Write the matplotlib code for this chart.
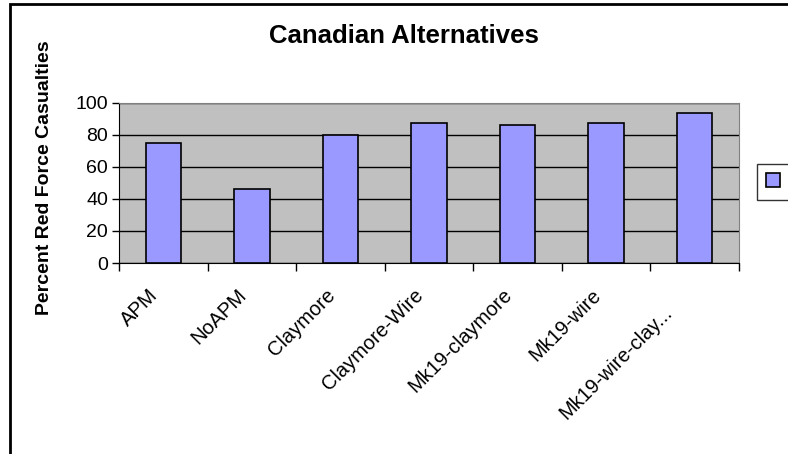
import numpy as np
import matplotlib.pyplot as plt
from matplotlib.patches import Rectangle

plt.rcParams['font.family'] = ['Liberation Sans', 'DejaVu Sans']

categories = ['APM', 'NoAPM', 'Claymore', 'Claymore-Wire', 'Mk19-claymore',
              'Mk19-wire', 'Mk19-wire-clay...']
casualties = [75, 46, 80, 87.5, 86.5, 87.5, 93.5]

fig = plt.figure(figsize=(7.88, 4.54), dpi=100)
ax = fig.add_axes([119/788, 1-263/454, 620/788, 160/454])

x = np.arange(len(categories))
ax.bar(x, casualties, width=0.4, color='#9999FF', edgecolor='black',
       linewidth=1.2, label=' ', zorder=3)

ax.set_facecolor('#C0C0C0')
ax.set_xlim(-0.5, len(categories) - 0.5)
ax.set_ylim(0, 100)
ax.set_yticks([0, 20, 40, 60, 80, 100])
ax.yaxis.grid(True, color='black', linewidth=1, zorder=1)
ax.set_axisbelow(True)

# category boundary ticks
ax.set_xticks(np.arange(len(categories) + 1) - 0.5)
ax.set_xticklabels([])
ax.tick_params(axis='x', direction='out', length=6, width=1)
ax.tick_params(axis='y', direction='out', length=5, width=1, labelsize=14, pad=3)
for i, c in enumerate(categories):
    # truncated last label sits a bit further down the diagonal
    dx, dy = (-0.17, -14) if not c.endswith('...') else (-0.36, -25)
    ax.text(i + dx, dy, c, rotation=45, ha='right', va='top',
            rotation_mode='anchor', fontsize=14.5)

for s in ['top', 'right']:
    ax.spines[s].set_color('#808080')
for s in ['left', 'bottom']:
    ax.spines[s].set_color('black')

fig.text(404/788, 1-36/454, 'Canadian Alternatives', ha='center', va='center',
         fontsize=18.5, fontweight='bold')
fig.text(45/788, 1-178/454, 'Percent Red Force Casualties', rotation=90,
         ha='center', va='center', fontsize=14, fontweight='bold')

leg = fig.legend(loc='center left', bbox_to_anchor=(757/788, 1-182/454),
                 frameon=True, fancybox=False, edgecolor='black',
                 borderaxespad=0, handlelength=0.8, handleheight=0.8,
                 borderpad=0.5, handletextpad=0.8, fontsize=13)
leg.get_frame().set_linewidth(1)

# outer chart border (only left/top visible in the original)
fig.patches.append(Rectangle((10/788, -0.1), 1.2, 1 - 4/454 + 0.1,
                             transform=fig.transFigure, fill=False,
                             edgecolor='black', linewidth=2))

fig.savefig('out.png', dpi=100)
